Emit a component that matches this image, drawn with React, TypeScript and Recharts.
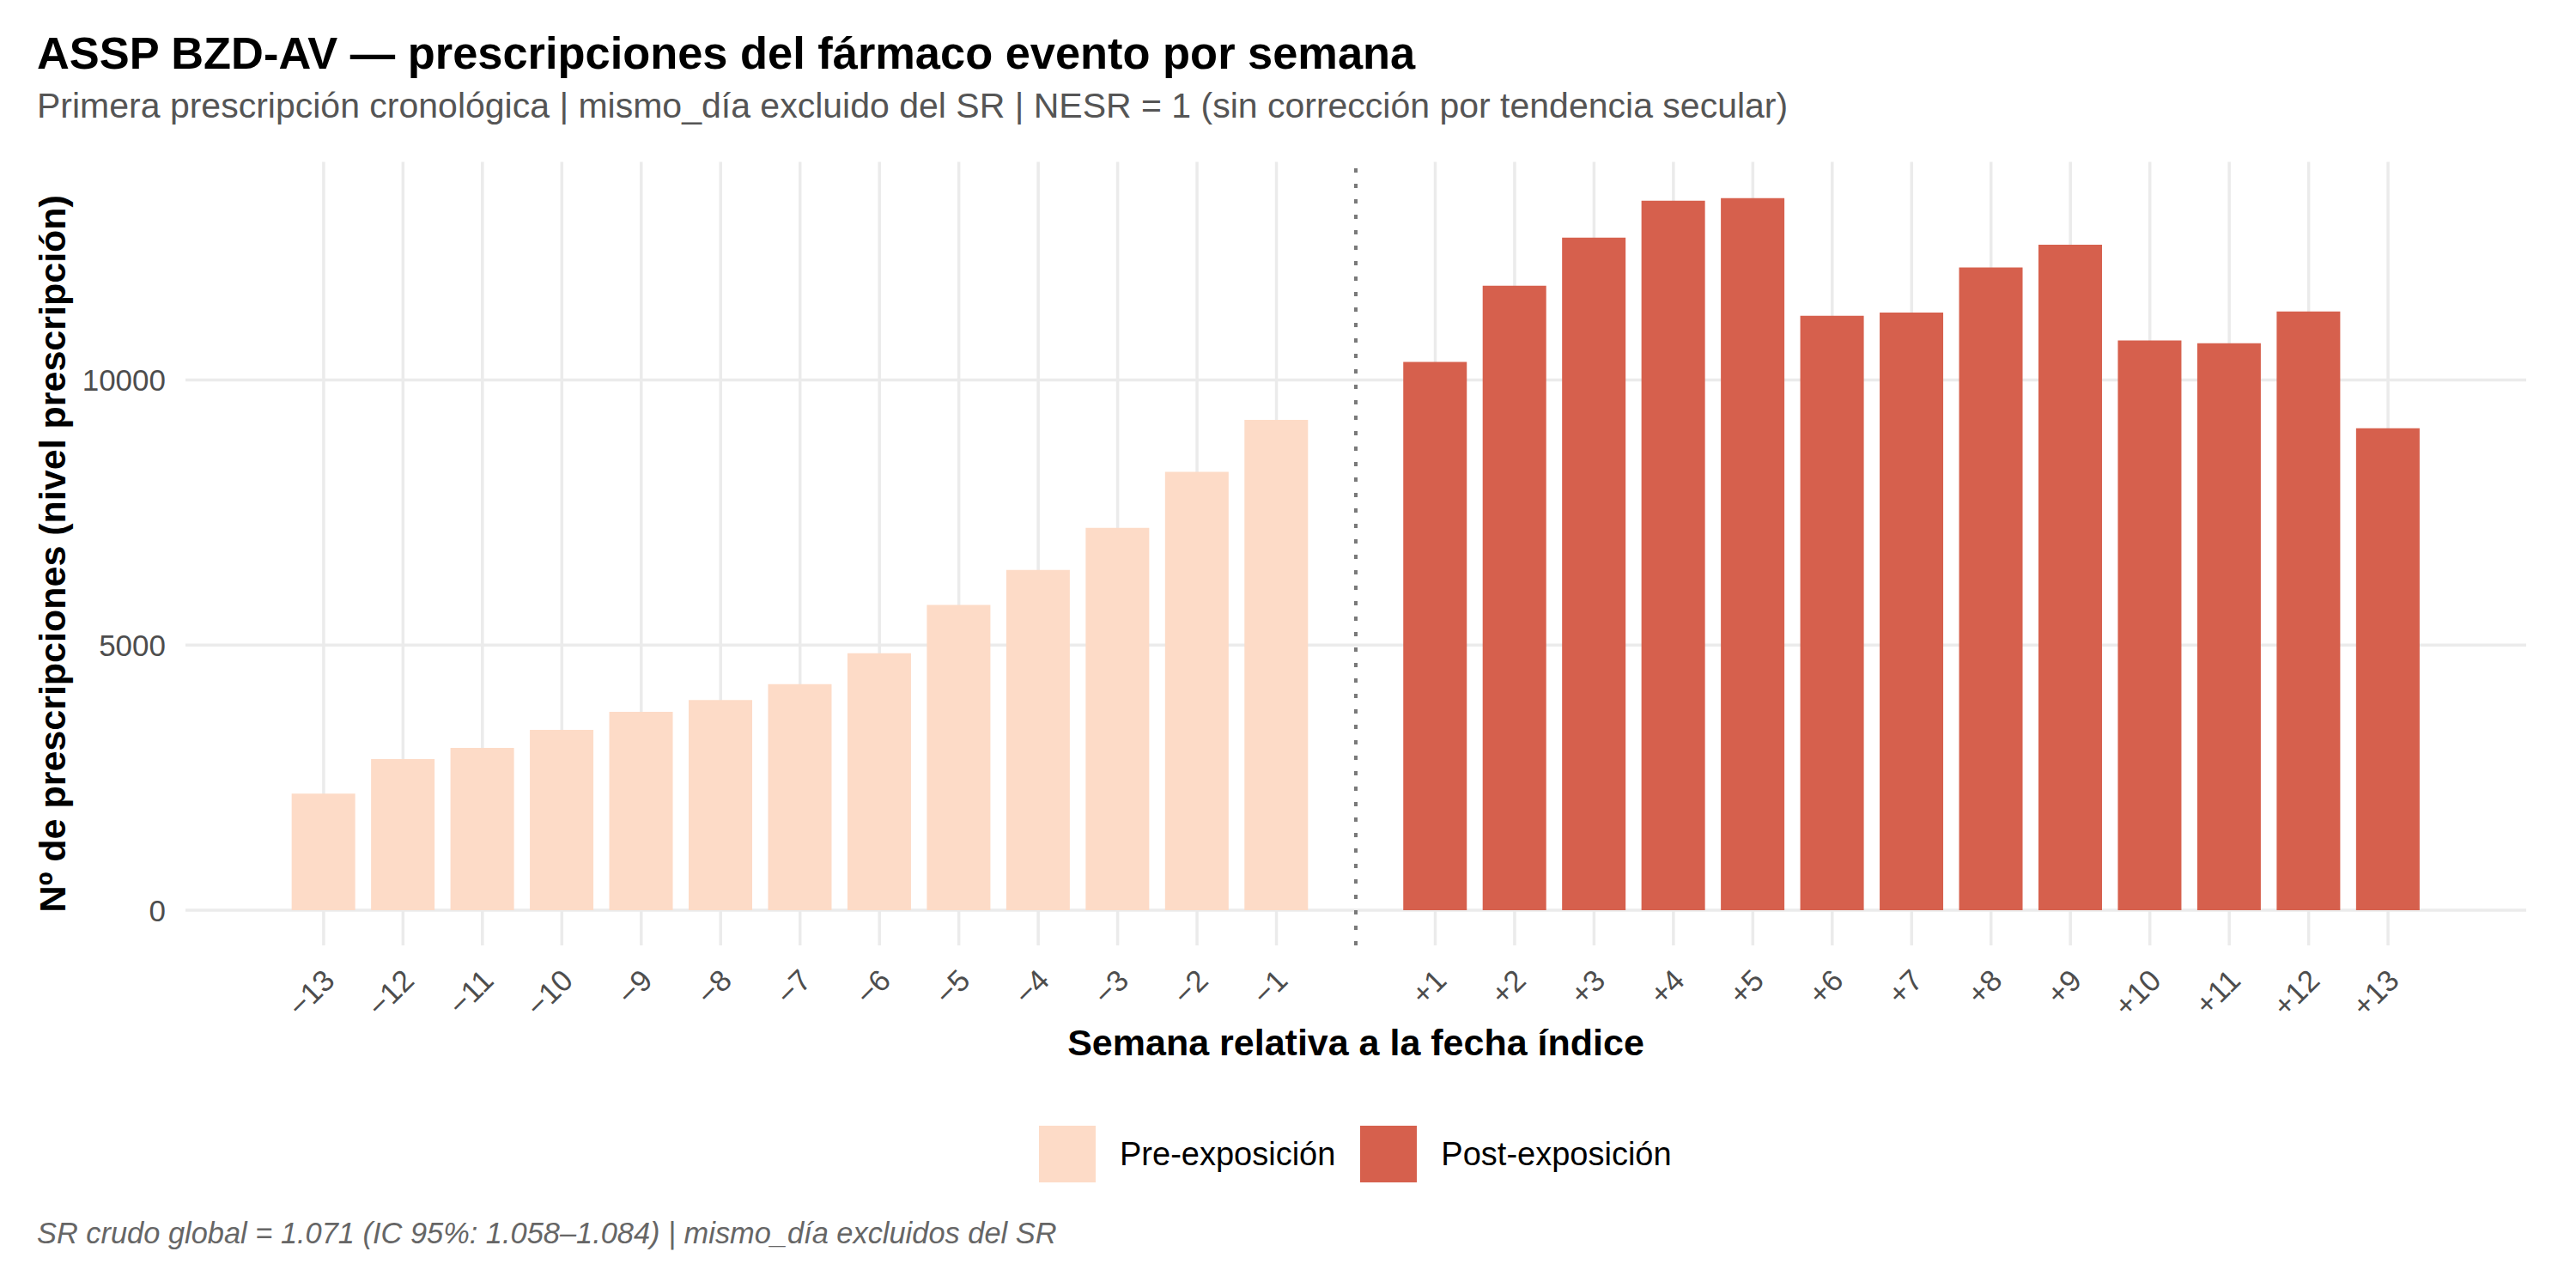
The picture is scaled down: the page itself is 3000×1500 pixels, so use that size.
import React from "react";
import { BarChart, Bar, XAxis, YAxis, CartesianGrid, ReferenceLine, Legend, Label } from "recharts";

const FONT = "'Liberation Sans', Arial, Helvetica, sans-serif";

const preWeeks = [-13, -12, -11, -10, -9, -8, -7, -6, -5, -4, -3, -2, -1];
const preCounts = [2200, 2850, 3060, 3400, 3740, 3965, 4265, 4845, 5755, 6415, 7210, 8265, 9245];
const postWeeks = [1, 2, 3, 4, 5, 6, 7, 8, 9, 10, 11, 12, 13];
const postCounts = [10340, 11775, 12685, 13380, 13430, 11210, 11270, 12120, 12550, 10745, 10690, 11290, 9090];
const weekTicks = [...preWeeks, ...postWeeks];
const weekTickLabels = [
  "\u221213", "\u221212", "\u221211", "\u221210", "\u22129", "\u22128", "\u22127", "\u22126", "\u22125", "\u22124", "\u22123", "\u22122", "\u22121",
  "+1", "+2", "+3", "+4", "+5", "+6", "+7", "+8", "+9", "+10", "+11", "+12", "+13",
];
const countTicks = [0, 5000, 10000];
const seriesNames = ["Pre-exposición", "Post-exposición"];
const seriesColors = ["#FDDBC7", "#D6604D"];

const titleText = "ASSP BZD-AV \u2014 prescripciones del fármaco evento por semana";
const subtitleText = "Primera prescripción cronológica | mismo_día excluido del SR | NESR = 1 (sin corrección por tendencia secular)";
const captionText = "SR crudo global = 1.071 (IC 95%: 1.058\u20131.084) | mismo_día excluidos del SR";
const xTitle = "Semana relativa a la fecha índice";
const yTitle = "Nº de prescripciones (nivel prescripción)";

const data = [
  ...preWeeks.map((w, i) => ({ week: w, pre: preCounts[i], post: null as number | null })),
  ...postWeeks.map((w, i) => ({ week: w, pre: null as number | null, post: postCounts[i] })),
];

const XTick = (props: any) => {
  const { x, y, payload } = props;
  const i = weekTicks.indexOf(payload.value);
  const ax = x + 15;
  const ay = y + 43;
  return (
    <text x={ax} y={ay} transform={`rotate(-45 ${ax} ${ay})`} textAnchor="end" fontSize={35} fill="#4d4d4d" fontFamily={FONT}>
      {weekTickLabels[i]}
    </text>
  );
};

const YTick = (props: any) => {
  const { y, payload } = props;
  return (
    <text x={193} y={y} dy="0.36em" textAnchor="end" fontSize={35} fill="#4d4d4d" fontFamily={FONT}>
      {payload.value}
    </text>
  );
};

const LegendContent = (props: any) => {
  const payload = [...(props.payload || [])].sort(
    (a: any, b: any) => seriesNames.indexOf(a.value) - seriesNames.indexOf(b.value)
  );
  return (
    <div style={{ display: "flex", alignItems: "center", marginLeft: 1210, height: 66, fontFamily: FONT }}>
      {payload.map((p: any, i: number) => (
        <div key={i} style={{ display: "flex", alignItems: "center", marginLeft: i === 0 ? 0 : 29 }}>
          <div style={{ width: 66, height: 66, background: p.color }} />
          <span style={{ marginLeft: 28, fontSize: 38, lineHeight: 1, color: "#000" }}>{p.value}</span>
        </div>
      ))}
    </div>
  );
};

export default function App() {
  return (
    <div style={{ position: "absolute", left: 0, top: 0, width: 3000, height: 1500, background: "#fff" }}>
      <BarChart
        width={3000}
        height={1500}
        data={data}
        margin={{ top: 188.5, right: 58, bottom: 249, left: 0 }}
      >
        <CartesianGrid stroke="#ebebeb" strokeWidth={3.5} syncWithTicks />
        <XAxis
          dataKey="week"
          type="number"
          domain={[-14.74, 14.74]}
          ticks={weekTicks}
          interval={0}
          allowDataOverflow
          axisLine={false}
          tickLine={false}
          tickSize={0}
          tickMargin={0}
          height={150}
          tick={<XTick />}
        >
          <Label
            content={(p: any) => {
              const vb = p.viewBox;
              return (
                <text x={vb.x + vb.width / 2} y={vb.y + 128} textAnchor="middle" fontSize={43} fontWeight="bold" fill="#000" fontFamily={FONT}>
                  {xTitle}
                </text>
              );
            }}
          />
        </XAxis>
        <YAxis
          type="number"
          domain={[-664, 14113]}
          ticks={countTicks}
          interval={0}
          allowDataOverflow
          axisLine={false}
          tickLine={false}
          width={216}
          tick={<YTick />}
        >
          <Label
            content={(p: any) => {
              const vb = p.viewBox;
              const cy = vb.y + vb.height / 2;
              return (
                <text x={76} y={cy} transform={`rotate(-90 76 ${cy})`} textAnchor="middle" fontSize={43} fontWeight="bold" fill="#000" fontFamily={FONT}>
                  {yTitle}
                </text>
              );
            }}
          />
        </YAxis>
        <ReferenceLine x={0} stroke="#7a7a7a" strokeWidth={4} strokeDasharray="5 13" />
        <Bar dataKey="pre" name={seriesNames[0]} stackId="s" fill={seriesColors[0]} barSize={74} isAnimationActive={false} legendType="square" />
        <Bar dataKey="post" name={seriesNames[1]} stackId="s" fill={seriesColors[1]} barSize={74} isAnimationActive={false} legendType="square" />
        <Legend
          layout="horizontal"
          verticalAlign="middle"
          align="center"
          content={<LegendContent />}
          wrapperStyle={{ left: 0, top: 1311, width: 3000, height: 66 }}
        />
      </BarChart>
      <svg width={3000} height={1500} style={{ position: "absolute", left: 0, top: 0, pointerEvents: "none" }}>
        <text x={43} y={80} fontSize={52.4} fontWeight="bold" fill="#000" fontFamily={FONT}>{titleText}</text>
        <text x={43} y={137} fontSize={41} fill="#555555" fontFamily={FONT}>{subtitleText}</text>
        <text x={43} y={1448} fontSize={34.4} fontStyle="italic" fill="#666666" fontFamily={FONT}>{captionText}</text>
      </svg>
    </div>
  );
}
